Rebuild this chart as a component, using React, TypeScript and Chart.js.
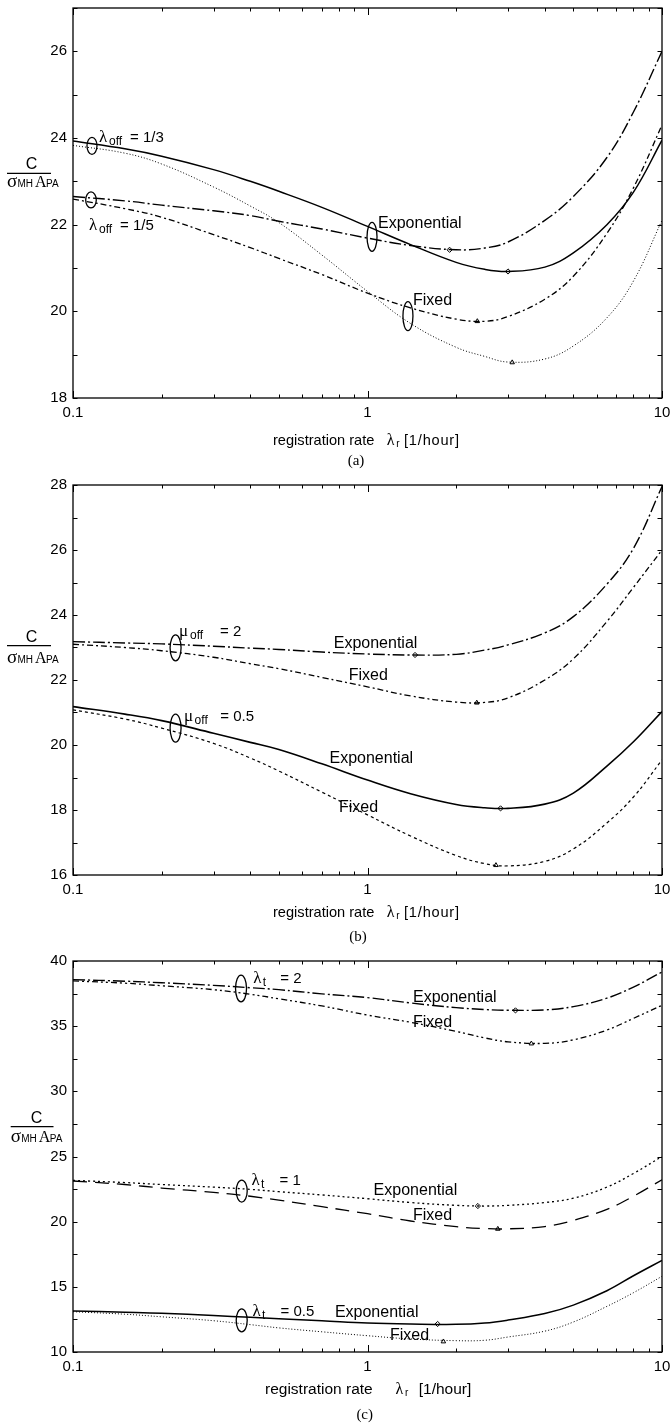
import React, { useEffect, useRef } from "react";
import { Chart, registerables } from "chart.js";

Chart.register(...registerables);

const SANS = '"Liberation Sans", Arial, Helvetica, sans-serif';
const SERIF = '"Liberation Serif", "Times New Roman", serif';

// ---------- data ----------
const lambdaR = [0.1, 0.15, 0.2, 0.3, 0.4, 0.5, 0.7, 1, 1.4, 2, 2.5, 3, 4, 5, 6.5, 8, 10];
const xTickLabels = [0.1, 1, 10];

// panel (a): lambda_off = 1/3 and 1/5
const aExp13 = [23.93, 23.75, 23.58, 23.27, 23.0, 22.77, 22.4, 21.96, 21.54, 21.13, 20.97, 20.92, 21.02, 21.35, 22.0, 22.75, 23.95];
const aFix13 = [23.83, 23.65, 23.4, 22.87, 22.43, 22.05, 21.3, 20.46, 19.72, 19.17, 18.96, 18.83, 18.9, 19.2, 19.85, 20.7, 22.1];
const aExp15 = [22.65, 22.55, 22.45, 22.32, 22.21, 22.08, 21.9, 21.69, 21.52, 21.42, 21.46, 21.6, 22.1, 22.65, 23.55, 24.6, 26.0];
const aFix15 = [22.59, 22.37, 22.17, 21.77, 21.47, 21.22, 20.85, 20.42, 20.08, 19.82, 19.77, 19.88, 20.28, 20.81, 21.8, 22.85, 24.3];
const aExpMinX = [3.0, 1.9];
const aExpMinY = [20.92, 21.42];
const aFixMinX = [3.1, 2.36];
const aFixMinY = [18.82, 19.77];
const aYTicks = [18, 20, 22, 24, 26];

// panel (b): mu_off = 2 and 0.5
const bExp2 = [23.18, 23.14, 23.11, 23.04, 22.98, 22.94, 22.86, 22.8, 22.77, 22.79, 22.92, 23.08, 23.45, 23.95, 24.95, 26.05, 27.95];
const bFix2 = [23.1, 23.0, 22.9, 22.7, 22.5, 22.35, 22.08, 21.79, 21.51, 21.32, 21.31, 21.45, 22.0, 22.65, 23.8, 24.85, 26.0];
const bExp05 = [21.18, 20.95, 20.75, 20.36, 20.08, 19.86, 19.42, 18.92, 18.5, 18.17, 18.07, 18.05, 18.18, 18.52, 19.35, 20.1, 21.03];
const bFix05 = [21.08, 20.8, 20.52, 20.05, 19.6, 19.2, 18.55, 17.85, 17.2, 16.6, 16.35, 16.28, 16.42, 16.8, 17.6, 18.4, 19.54];
const bExpMinX = [1.45, 2.83];
const bExpMinY = [22.77, 18.05];
const bFixMinX = [2.35, 2.73];
const bFixMinY = [21.3, 16.3];
const bYTicks = [16, 18, 20, 22, 24, 26, 28];

// panel (c): lambda_t = 2, 1 and 0.5
const cExp2 = [38.57, 38.45, 38.33, 38.13, 37.95, 37.8, 37.48, 37.19, 36.78, 36.42, 36.28, 36.22, 36.25, 36.5, 37.15, 38.0, 39.16];
const cFix2 = [38.47, 38.3, 38.1, 37.8, 37.45, 37.1, 36.55, 35.85, 35.3, 34.6, 34.1, 33.8, 33.68, 33.95, 34.7, 35.6, 36.6];
const cExp1 = [23.17, 23.0, 22.85, 22.65, 22.48, 22.3, 22.05, 21.76, 21.47, 21.25, 21.2, 21.25, 21.47, 21.8, 22.65, 23.7, 25.0];
const cFix1 = [23.12, 22.85, 22.58, 22.25, 21.95, 21.65, 21.15, 20.61, 20.05, 19.62, 19.47, 19.45, 19.62, 20.1, 20.95, 21.95, 23.22];
const cExp05 = [13.15, 13.05, 12.97, 12.8, 12.66, 12.55, 12.4, 12.23, 12.15, 12.12, 12.22, 12.45, 12.95, 13.6, 14.7, 15.85, 17.03];
const cFix05 = [13.09, 12.9, 12.7, 12.4, 12.1, 11.85, 11.55, 11.25, 11.0, 10.87, 10.9, 11.15, 11.6, 12.3, 13.5, 14.55, 15.81];
const cExpMinX = [3.18, 2.37, 1.73];
const cExpMinY = [36.21, 21.2, 12.15];
const cFixMinX = [3.6, 2.77, 1.81];
const cFixMinY = [33.66, 19.44, 10.8];
const cYTicks = [10, 15, 20, 25, 30, 35, 40];

// ---------- annotation helpers ----------
type Part = { t: string; dx: number; dy?: number; font: string; ls?: number };
type Label = { x: number; y: number; parts: Part[] };
type Ell = { x: number; y: number; rx: number; ry: number };

const F16 = `16px ${SANS}`;
const word = (t: string): Part[] => [{ t, dx: 0, font: F16 }];
const greekLabel = (g: string, sub: string, subDx: number, rest: string, restDx: number): Part[] => [
  { t: g, dx: 0, font: `17px ${SERIF}` },
  { t: sub, dx: subDx, dy: 3, font: `12px ${SANS}` },
  { t: rest, dx: restDx, font: `15px ${SANS}` },
];

const aLabels: Label[] = [
  { x: 0.1225, y: 23.91, parts: greekLabel("λ", "off", 10, "= 1/3", 31) },
  { x: 0.1133, y: 21.88, parts: greekLabel("λ", "off", 10, "= 1/5", 31) },
  { x: 1.086, y: 21.92, parts: word("Exponential") },
  { x: 1.427, y: 20.15, parts: word("Fixed") },
];
const aEllipses: Ell[] = [
  { x: 0.116, y: 23.82, rx: 5, ry: 8.5 },
  { x: 0.1151, y: 22.57, rx: 5.3, ry: 8 },
  { x: 1.036, y: 21.72, rx: 5, ry: 14.5 },
  { x: 1.372, y: 19.89, rx: 5, ry: 14.5 },
];

const bLabels: Label[] = [
  { x: 0.229, y: 23.35, parts: greekLabel("μ", "off", 11, "= 2", 41) },
  { x: 0.238, y: 20.75, parts: greekLabel("μ", "off", 10.7, "= 0.5", 36.4) },
  { x: 0.768, y: 22.98, parts: word("Exponential") },
  { x: 0.863, y: 22.0, parts: word("Fixed") },
  { x: 0.743, y: 19.45, parts: word("Exponential") },
  { x: 0.8, y: 17.95, parts: word("Fixed") },
];
const bEllipses: Ell[] = [
  { x: 0.223, y: 22.99, rx: 5.5, ry: 13 },
  { x: 0.223, y: 20.52, rx: 5.5, ry: 14 },
];

const cLabels: Label[] = [
  { x: 0.4095, y: 38.32, parts: greekLabel("λ", "t", 9.5, "= 2", 27) },
  { x: 1.427, y: 36.84, parts: word("Exponential") },
  { x: 1.427, y: 34.92, parts: word("Fixed") },
  { x: 0.404, y: 22.79, parts: greekLabel("λ", "t", 9.5, "= 1", 28) },
  { x: 1.049, y: 22.03, parts: word("Exponential") },
  { x: 1.427, y: 20.11, parts: word("Fixed") },
  { x: 0.407, y: 12.76, parts: greekLabel("λ", "t", 9.5, "= 0.5", 28) },
  { x: 0.775, y: 12.69, parts: word("Exponential") },
  { x: 1.192, y: 10.9, parts: word("Fixed") },
];
const cEllipses: Ell[] = [
  { x: 0.372, y: 37.89, rx: 5.5, ry: 13.3 },
  { x: 0.374, y: 22.35, rx: 5.5, ry: 11 },
  { x: 0.374, y: 12.43, rx: 5.5, ry: 11.5 },
];

type Series = { y: number[]; dash: number[]; width: number };

type Panel = {
  top: number;
  height: number;
  plotTop: number;
  plotBottom: number;
  yMin: number;
  yMax: number;
  yTicks: number[];
  yMinor: number;
  series: Series[];
  expMin: { x: number[]; y: number[] };
  fixMin: { x: number[]; y: number[] };
  labels: Label[];
  ellipses: Ell[];
  title: { x: number; y: number; parts: Part[] };
  caption: { x: number; y: number; text: string };
  ylab: { cx: number; cBase: number; lineY: number; lineX0: number; lineX1: number; rowX: number; rowBase: number };
};

const titleParts = (size: number, lamDx: number, bracketDx: number, ls: number): Part[] => [
  { t: "registration rate", dx: 0, font: `${size}px ${SANS}` },
  { t: "λ", dx: lamDx, font: `16px ${SERIF}` },
  { t: "r", dx: lamDx + 9.5, dy: 2, font: `10px ${SANS}` },
  { t: "[1/hour]", dx: bracketDx, font: `${size}px ${SANS}`, ls },
];

const panels: Panel[] = [
  {
    top: 0, height: 470, plotTop: 8, plotBottom: 398,
    yMin: 18, yMax: 27, yTicks: aYTicks, yMinor: 1,
    series: [
      { y: aExp13, dash: [], width: 1.5 },
      { y: aFix13, dash: [1, 2], width: 1 },
      { y: aExp15, dash: [12, 3, 2, 3], width: 1.4 },
      { y: aFix15, dash: [6, 3, 2, 3], width: 1.3 },
    ],
    expMin: { x: aExpMinX, y: aExpMinY },
    fixMin: { x: aFixMinX, y: aFixMinY },
    labels: aLabels, ellipses: aEllipses,
    title: { x: 273, y: 445, parts: titleParts(14.6, 113.7, 131, 0.8) },
    caption: { x: 356, y: 465, text: "(a)" },
    ylab: { cx: 31.5, cBase: 169, lineY: 173.3, lineX0: 7, lineX1: 51, rowX: 7, rowBase: 186.7 },
  },
  {
    top: 470, height: 475, plotTop: 15, plotBottom: 405,
    yMin: 16, yMax: 28, yTicks: bYTicks, yMinor: 1,
    series: [
      { y: bExp2, dash: [12, 3, 2, 3], width: 1.4 },
      { y: bFix2, dash: [6, 3, 2, 3], width: 1.3 },
      { y: bExp05, dash: [], width: 1.6 },
      { y: bFix05, dash: [3, 3], width: 1.2 },
    ],
    expMin: { x: bExpMinX, y: bExpMinY },
    fixMin: { x: bFixMinX, y: bFixMinY },
    labels: bLabels, ellipses: bEllipses,
    title: { x: 273, y: 447, parts: titleParts(14.6, 113.7, 131, 0.8) },
    caption: { x: 358, y: 471, text: "(b)" },
    ylab: { cx: 31.5, cBase: 171.7, lineY: 175.7, lineX0: 7, lineX1: 51, rowX: 7, rowBase: 192.5 },
  },
  {
    top: 945, height: 482, plotTop: 16, plotBottom: 407,
    yMin: 10, yMax: 40, yTicks: cYTicks, yMinor: 2.5,
    series: [
      { y: cExp2, dash: [12, 3, 2, 3], width: 1.4 },
      { y: cFix2, dash: [6, 3, 2, 3, 2, 3], width: 1.3 },
      { y: cExp1, dash: [2, 3], width: 1.3 },
      { y: cFix1, dash: [14, 8], width: 1.3 },
      { y: cExp05, dash: [], width: 1.5 },
      { y: cFix05, dash: [1, 2], width: 1 },
    ],
    expMin: { x: cExpMinX, y: cExpMinY },
    fixMin: { x: cFixMinX, y: cFixMinY },
    labels: cLabels, ellipses: cEllipses,
    title: { x: 265, y: 449, parts: titleParts(15.5, 130.5, 153.7, 0) },
    caption: { x: 364.7, y: 474, text: "(c)" },
    ylab: { cx: 36.5, cBase: 178.3, lineY: 181.7, lineX0: 10.7, lineX1: 53.5, rowX: 10.7, rowBase: 196.7 },
  },
];

function drawParts(ctx: CanvasRenderingContext2D, x: number, y: number, parts: Part[]) {
  for (const p of parts) {
    ctx.font = p.font;
    (ctx as any).letterSpacing = `${p.ls || 0}px`;
    ctx.fillText(p.t, x + p.dx, y + (p.dy || 0));
  }
  (ctx as any).letterSpacing = "0px";
}

function makeConfig(p: Panel): any {
  const lineSets = p.series.map((s) => ({
    data: lambdaR.map((x, i) => ({ x, y: s.y[i] })),
    borderColor: "#000",
    borderWidth: s.width,
    borderDash: s.dash,
    pointRadius: 0,
    fill: false,
    tension: 0.4,
  }));
  const markerSet = (m: { x: number[]; y: number[] }, style: string) => ({
    data: m.x.map((x, i) => ({ x, y: m.y[i] })),
    showLine: false,
    pointStyle: style,
    pointRadius: 2.6,
    pointBorderWidth: 1,
    pointBorderColor: "#000",
    pointBackgroundColor: "#fff",
    borderColor: "#000",
  });

  const annot = {
    id: "annot",
    afterDraw(chart: any) {
      const ctx: CanvasRenderingContext2D = chart.ctx;
      const xs = chart.scales.x;
      const ys = chart.scales.y;
      const { left, right, top, bottom } = chart.chartArea;
      ctx.save();
      ctx.strokeStyle = "#000";
      ctx.fillStyle = "#000";
      ctx.setLineDash([]);
      // frame
      ctx.lineWidth = 1.3;
      ctx.strokeRect(left, top, right - left, bottom - top);
      // x ticks (inward, top and bottom)
      ctx.lineWidth = 1;
      for (const d of [0.1, 1, 10]) {
        for (let k = 1; k <= 9; k++) {
          const v = d * k;
          if (v > 10.0001) continue;
          const px = Math.round(xs.getPixelForValue(v)) + 0.5;
          const len = k === 1 ? 7 : 3.5;
          ctx.beginPath();
          ctx.moveTo(px, bottom);
          ctx.lineTo(px, bottom - len);
          ctx.moveTo(px, top);
          ctx.lineTo(px, top + len);
          ctx.stroke();
        }
      }
      // y ticks (inward, left and right)
      for (let v = p.yMin; v <= p.yMax + 1e-6; v += p.yMinor) {
        const py = Math.round(ys.getPixelForValue(v)) + 0.5;
        const len = 4.5;
        ctx.beginPath();
        ctx.moveTo(left, py);
        ctx.lineTo(left + len, py);
        ctx.moveTo(right, py);
        ctx.lineTo(right - len, py);
        ctx.stroke();
      }
      // ellipses
      ctx.lineWidth = 1.3;
      for (const e of p.ellipses) {
        ctx.beginPath();
        ctx.ellipse(xs.getPixelForValue(e.x), ys.getPixelForValue(e.y), e.rx, e.ry, 0, 0, Math.PI * 2);
        ctx.stroke();
      }
      // labels
      ctx.textAlign = "left";
      ctx.textBaseline = "alphabetic";
      for (const l of p.labels) {
        drawParts(ctx, xs.getPixelForValue(l.x), ys.getPixelForValue(l.y), l.parts);
      }
      // x title
      drawParts(ctx, p.title.x, p.title.y, p.title.parts);
      // caption
      ctx.font = `15px ${SERIF}`;
      ctx.textAlign = "center";
      ctx.fillText(p.caption.text, p.caption.x, p.caption.y);
      // y label as fraction
      const yl = p.ylab;
      ctx.font = `16px ${SANS}`;
      ctx.fillText("C", yl.cx, yl.cBase);
      ctx.lineWidth = 1.2;
      ctx.beginPath();
      ctx.moveTo(yl.lineX0, yl.lineY);
      ctx.lineTo(yl.lineX1, yl.lineY);
      ctx.stroke();
      ctx.textAlign = "left";
      drawParts(ctx, yl.rowX, yl.rowBase, [
        { t: "σ", dx: 0, font: `19px ${SERIF}` },
        { t: "MH", dx: 10.5, font: `10px ${SANS}` },
        { t: "A", dx: 28, font: `16px ${SERIF}` },
        { t: "PA", dx: 39, font: `10px ${SANS}` },
      ]);
      ctx.restore();
    },
  };

  return {
    type: "line",
    data: {
      datasets: [...lineSets, markerSet(p.expMin, "rectRot"), markerSet(p.fixMin, "triangle")],
    },
    options: {
      responsive: false,
      animation: false,
      devicePixelRatio: 1,
      events: [],
      layout: { padding: { top: p.plotTop, right: 9, left: 0, bottom: 0 } },
      plugins: { legend: { display: false }, tooltip: { enabled: false } },
      scales: {
        x: {
          type: "logarithmic",
          min: 0.1,
          max: 10,
          grid: { display: false, drawTicks: false },
          border: { display: false },
          ticks: {
            color: "#000",
            font: { family: SANS, size: 15, lineHeight: 1.2 },
            padding: 6,
            maxRotation: 0,
            autoSkip: false,
            callback: (v: any) => String(v),
          },
          afterBuildTicks: (s: any) => {
            s.ticks = xTickLabels.map((v) => ({ value: v }));
          },
          afterFit: (s: any) => {
            s.height = p.height - p.plotBottom;
            s.paddingLeft = 0;
            s.paddingRight = 0;
          },
        },
        y: {
          type: "linear",
          min: p.yMin,
          max: p.yMax,
          grid: { display: false, drawTicks: false },
          border: { display: false },
          ticks: {
            color: "#000",
            font: { family: SANS, size: 15, lineHeight: 1.2 },
            padding: 6,
            callback: (v: any) => String(v),
          },
          afterBuildTicks: (s: any) => {
            s.ticks = p.yTicks.map((v) => ({ value: v }));
          },
          afterFit: (s: any) => {
            s.width = 73;
            s.paddingTop = 0;
            s.paddingBottom = 0;
          },
        },
      },
    },
    plugins: [annot],
  };
}

function PanelChart({ p }: { p: Panel }) {
  const ref = useRef<HTMLCanvasElement>(null);
  useEffect(() => {
    const chart = new Chart(ref.current as HTMLCanvasElement, makeConfig(p));
    return () => chart.destroy();
  }, [p]);
  return (
    <canvas
      ref={ref}
      width={671}
      height={p.height}
      style={{ position: "absolute", left: 0, top: p.top, width: 671, height: p.height }}
    />
  );
}

export default function App() {
  return (
    <div style={{ position: "absolute", left: 0, top: 0, width: 671, height: 1427, background: "#fff" }}>
      {panels.map((p, i) => (
        <PanelChart key={i} p={p} />
      ))}
    </div>
  );
}
